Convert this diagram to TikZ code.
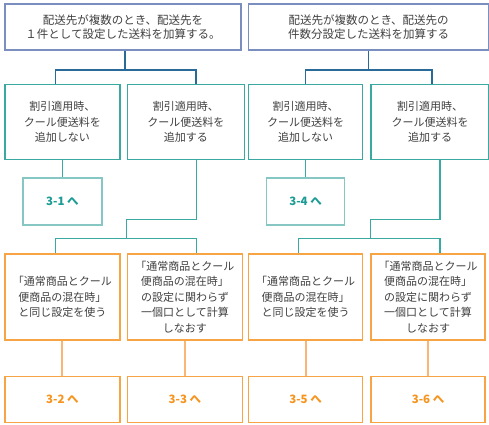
\documentclass[tikz,border=0pt]{standalone}
\usepackage{fontspec}
\setmainfont{Noto Sans CJK JP}
\usetikzlibrary{positioning}
\definecolor{frameblue}{HTML}{7A8FC0}
\definecolor{lineblue}{HTML}{2A6A98}
\definecolor{frameteal}{HTML}{3AA9A2}
\definecolor{paleteal}{HTML}{86C7C3}
\definecolor{textteal}{HTML}{1C9C95}
\definecolor{frameorange}{HTML}{F7A445}
\definecolor{paleorange}{HTML}{F9B676}
\definecolor{textorange}{HTML}{F7941E}
\definecolor{textgray}{HTML}{404040}

\begin{document}
\begin{tikzpicture}[
    every node/.style={font=\fontsize{11}{15.5}\selectfont, text=textgray, align=center, inner sep=0pt},
    topbox/.style={rectangle, draw=frameblue, line width=1.6pt, fill=white, minimum height=46pt, font=\fontsize{11.5}{14.5}\selectfont},
    midbox/.style={rectangle, draw=frameteal, line width=1.5pt, fill=white, minimum height=75pt},
    gotoTeal/.style={rectangle, draw=paleteal, line width=1.5pt, fill=white, minimum height=47pt, text=textteal, font=\fontsize{11.5}{14}\selectfont\bfseries},
    subbox/.style={rectangle, draw=frameorange, line width=1.5pt, fill=white, minimum height=86pt},
    gotoOrange/.style={rectangle, draw=frameorange, line width=1.5pt, fill=white, minimum height=46pt, text=textorange, font=\fontsize{11.5}{14}\selectfont\bfseries},
    linkBlue/.style={draw=lineblue, line width=1.5pt},
    linkTeal/.style={draw=frameteal, line width=1.5pt},
    linkOrange/.style={draw=paleorange, line width=2pt}
]
\useasboundingbox (0,0) rectangle (489pt,-424pt);

% ============== Fila superior ==============
\node[topbox, minimum width=236pt] (topL) at (123pt,-27pt) {配送先が複数のとき、配送先を\\１件として設定した送料を加算する。};
\node[topbox, minimum width=240pt, right=6pt of topL] (topR) {配送先が複数のとき、配送先の\\件数分設定した送料を加算する};

% ==============割引適用時 ==============
\node[midbox, minimum width=115pt, below=33pt of topL.south west, anchor=north west] (midA) {割引適用時、\\クール便送料を\\追加しない};
\node[midbox, minimum width=117pt, right=6pt of midA] (midB) {割引適用時、\\クール便送料を\\追加する};
\node[midbox, minimum width=114pt, below=33pt of topR.south west, anchor=north west] (midC) {割引適用時、\\クール便送料を\\追加しない};
\node[midbox, minimum width=118pt, right=7pt of midC] (midD) {割引適用時、\\クール便送料を\\追加する};

\node[gotoTeal, minimum width=79pt, below=17pt of midA] (goA) {3-1 へ};
\node[gotoTeal, minimum width=78pt, below=17pt of midC] (goB) {3-4 へ};

% ============== 混在時の設定 ==============
\node[subbox, minimum width=115pt, below=93pt of midA.south west, anchor=north west] (subA) {「通常商品とクール\\便商品の混在時」\\と同じ設定を使う};
\node[subbox, minimum width=115pt, right=6pt of subA] (subB) {「通常商品とクール\\便商品の混在時」\\の設定に関わらず\\一個口として計算\\しなおす};
\node[subbox, minimum width=114pt, below=93pt of midC.south west, anchor=north west] (subC) {「通常商品とクール\\便商品の混在時」\\と同じ設定を使う};
\node[subbox, minimum width=114pt, right=7pt of subC] (subD) {「通常商品とクール\\便商品の混在時」\\の設定に関わらず\\一個口として計算\\しなおす};

\node[gotoOrange, minimum width=115pt, below=35pt of subA] (endA) {3-2 へ};
\node[gotoOrange, minimum width=115pt, below=35pt of subB] (endB) {3-3 へ};
\node[gotoOrange, minimum width=114pt, below=35pt of subC] (endC) {3-5 へ};
\node[gotoOrange, minimum width=114pt, below=35pt of subD] (endD) {3-6 へ};

% ============== Conexiones ==============
\draw[linkBlue] ([xshift=2pt]topL.south) -- ++(0,-19pt) coordinate (jL);
\draw[linkBlue] ([xshift=-7pt]midA.north) |- (jL) -| ([xshift=10pt]midB.north);
\draw[linkBlue] (topR.south) -- ++(0,-19pt) coordinate (jR);
\draw[linkBlue] (midC.north) |- (jR) -| ([xshift=2pt]midD.north);

\draw[linkTeal] (midA) -- (goA);
\draw[linkTeal] (midC) -- (goB);

\coordinate (kL) at ([yshift=15pt]subB.north west);
\coordinate (kR) at ([yshift=15pt]subD.north west);
\draw[linkTeal] ([xshift=10.5pt]midB.south) -- ++(0,-59pt) -| (kL);
\draw[linkTeal] ([xshift=-7pt]subA.north) |- (kL) -| ([xshift=11.5pt]subB.north);
\draw[linkTeal] ([xshift=10pt]midD.south) -- ++(0,-59pt) -| (kR);
\draw[linkTeal] ([xshift=-7pt]subC.north) |- (kR) -| ([xshift=12pt]subD.north);

\draw[linkOrange] (subA) -- (endA);
\draw[linkOrange] (subB) -- (endB);
\draw[linkOrange] (subC) -- (endC);
\draw[linkOrange] (subD) -- (endD);
\end{tikzpicture}
\end{document}
